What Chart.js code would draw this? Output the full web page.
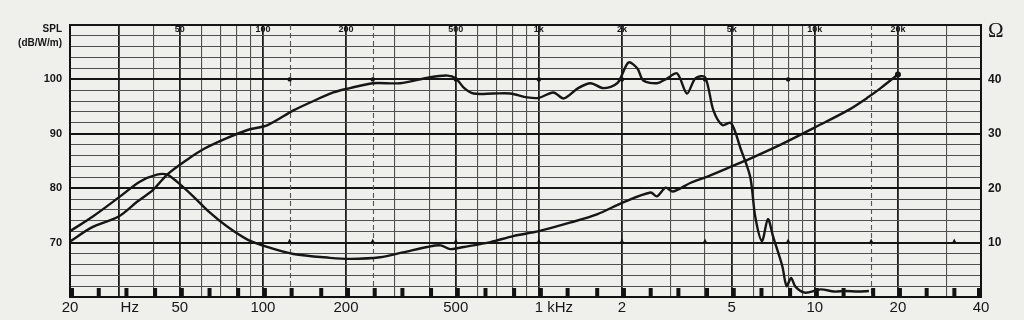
<!DOCTYPE html>
<html>
<head>
<meta charset="utf-8">
<script src="https://cdn.jsdelivr.net/npm/chart.js@4.4.1/dist/chart.umd.min.js"></script>
<style>
    html, body { margin: 0; padding: 0; background: #efefec; }
    #wrap { width: 1024px; height: 320px; }
</style>
</head>
<body>
<div id="wrap"><canvas id="graph" width="1024" height="320"></canvas></div>
<script>
// frequency response, SPL in dB/W/m (left axis)
const splFreq = [20, 24, 30, 35, 40, 45, 53, 61, 74, 88, 104, 129, 149, 180, 207, 250, 314, 404, 466, 500,
    534, 580, 684, 788, 908, 1000, 1128, 1232, 1388, 1540, 1712, 1924, 2112, 2276, 2390, 2680, 2920, 3170,
    3440, 3690, 4000, 4290, 4620, 4970, 5380, 5830, 6080, 6430, 6760, 7050, 7620, 7900, 8200, 8500, 9200,
    10500, 11750, 12800, 14400, 15700]
const splDb = [70.2, 72.8, 74.8, 77.5, 79.7, 82.5, 85.2, 87.2, 89.2, 90.7, 91.6, 94.3, 95.8, 97.6, 98.4, 99.3, 99.3, 100.4, 100.7, 100.2,
    98.5, 97.4, 97.4, 97.4, 96.7, 96.6, 97.6, 96.5, 98.4, 99.3, 98.4, 99.3, 103.1, 102.0, 99.8, 99.3, 100.2, 101.1,
    97.4, 100.2, 100.4, 94.3, 91.6, 92.0, 87.3, 82.1, 74.8, 70.3, 74.3, 71.2, 65.7, 62.0, 63.5, 61.9, 60.8,
    61.4, 61.0, 61.1, 61.0, 61.1]

// impedance in ohm (right axis)
const impFreq = [20, 24.2, 30.4, 35.8, 41.3, 45, 48.8, 55.9, 64.3, 74, 87.6, 103.6, 129, 175, 207, 266, 322, 394, 440, 478,
    534, 668, 808, 1000, 1304, 1624, 2020, 2540, 2680, 2880, 3060, 3550, 4060, 5380, 5700, 7520, 9940, 13160, 15580, 17320, 20000]
const impOhm = [12.1, 14.8, 18.5, 21.2, 22.5, 22.5, 21.2, 18.5, 15.5, 13.0, 10.6, 9.2, 7.9, 7.2, 7.0, 7.3, 8.2, 9.2, 9.5, 8.8,
    9.2, 10.1, 11.2, 12.1, 13.7, 15.2, 17.4, 19.2, 18.5, 20.1, 19.4, 21.0, 22.1, 24.7, 25.2, 28.0, 31.1, 34.3, 36.7, 38.4, 40.9]

// paper grid
const gridFreqs = [20, 30, 40, 50, 60, 70, 80, 90, 100, 200, 300, 400, 500, 600, 700, 800, 900,
    1000, 2000, 3000, 4000, 5000, 6000, 7000, 8000, 9000, 10000, 20000, 30000, 40000]
const boldFreqs = [20, 30, 50, 100, 200, 500, 1000, 2000, 5000, 10000, 20000]
const dashedFreqs = [125, 250, 16000]
const thirdOctaves = [20, 25, 31.5, 40, 50, 63, 80, 100, 125, 160, 200, 250, 315, 400, 500, 630, 800,
    1000, 1250, 1600, 2000, 2500, 3150, 4000, 5000, 6300, 8000, 10000, 12500, 16000, 20000, 25000, 31500, 40000]
const octaveMarks = [125, 250, 500, 1000, 2000, 4000, 8000, 16000, 32000]

// tick labels
const bottomTickFreqs = [20, 30, 50, 100, 200, 500, 1000, 2000, 5000, 10000, 20000, 40000]
const bottomTickText = ['20', 'Hz', '50', '100', '200', '500', '1 kHz', '2', '5', '10', '20', '40']
const topTickFreqs = [50, 100, 200, 500, 1000, 2000, 5000, 10000, 20000]
const topTickText = ['50', '100', '200', '500', '1k', '2k', '5k', '10k', '20k']
const splTicks = [70, 80, 90, 100]
const ohmTicks = [10, 20, 30, 40]

const ink = '#161616'
const sans = '"Liberation Sans", Arial, sans-serif'

let paperMarks = {
    id: 'paperMarks',
    beforeDatasetsDraw(chart) {
        let c = chart.ctx
        let a = chart.chartArea
        let x = chart.scales.x
        let y = chart.scales.y
        c.save()
        // dashed octave lines
        c.strokeStyle = '#555'
        c.lineWidth = 1.1
        c.setLineDash([5, 3])
        dashedFreqs.forEach(f => {
            let px = Math.round(x.getPixelForValue(f)) + 0.5
            c.beginPath()
            c.moveTo(px, a.top)
            c.lineTo(px, a.bottom)
            c.stroke()
        })
        c.setLineDash([])
        // 1/3 octave blocks along the bottom
        c.fillStyle = '#111'
        thirdOctaves.forEach(f => {
            let px = x.getPixelForValue(f)
            if (px > a.right - 4) px = a.right - 4
            c.fillRect(px, a.bottom - 9, 4, 9)
        })
        // octave marks on the 100 dB and 70 dB lines
        octaveMarks.forEach(f => {
            let px = x.getPixelForValue(f)
            if (f <= 8000) {
                c.beginPath()
                c.arc(px, y.getPixelForValue(100), 2.2, 0, Math.PI * 2)
                c.fill()
            }
            let py = y.getPixelForValue(70)
            c.beginPath()
            c.moveTo(px - 2.5, py + 1)
            c.lineTo(px + 2.5, py + 1)
            c.lineTo(px, py - 4)
            c.closePath()
            c.fill()
        })
        c.restore()
    },
    afterDraw(chart) {
        let c = chart.ctx
        let a = chart.chartArea
        let x = chart.scales.x
        c.save()
        c.fillStyle = ink
        c.textBaseline = 'middle'
        // bottom frequency labels
        c.font = '15px ' + sans
        bottomTickFreqs.forEach((f, i) => {
            let px = x.getPixelForValue(f)
            let t = bottomTickText[i]
            if (t === 'Hz') {
                c.textAlign = 'left'
                c.fillText(t, px + 2, 308)
            } else if (t === '1 kHz') {
                c.textAlign = 'left'
                c.fillText(t, px - c.measureText('1').width / 2, 308)
            } else {
                c.textAlign = 'center'
                c.fillText(t, px, 308)
            }
        })
        // small labels inside the top of the grid
        c.font = 'bold 9px ' + sans
        c.textAlign = 'center'
        topTickFreqs.forEach((f, i) => {
            c.fillText(topTickText[i], x.getPixelForValue(f), a.top + 5)
        })
        // axis titles
        c.font = 'bold 10px ' + sans
        c.textAlign = 'right'
        c.fillText('SPL', 62, 29)
        c.fillText('(dB/W/m)', 62, 43)
        c.font = '21px "Liberation Serif", "DejaVu Serif", serif'
        c.textAlign = 'left'
        c.textBaseline = 'alphabetic'
        c.fillText('Ω', 988, 37)
        c.restore()
    }
}

let srx = document.getElementById('graph').getContext('2d')

let graph = new Chart(srx, {
    type: 'line',
    data: {
        datasets: [
            {
                label: 'SPL',
                data: splFreq.map((f, i) => ({ x: f, y: splDb[i] })),
                yAxisID: 'y',
                borderColor: ink,
                borderWidth: 2.4,
                pointRadius: 0,
                tension: 0.3,
            },
            {
                label: 'Impedance',
                data: impFreq.map((f, i) => ({ x: f, y: impOhm[i] })),
                yAxisID: 'y1',
                borderColor: ink,
                borderWidth: 2.4,
                pointRadius: p => p.dataIndex === impFreq.length - 1 ? 3 : 0,
                pointBackgroundColor: ink,
                pointBorderWidth: 0,
                tension: 0.3,
            },
        ]
    },
    options: {
        responsive: false,
        animation: false,
        layout: { padding: { top: 25, left: 0, right: 0, bottom: 0 } },
        plugins: {
            legend: { display: false },
            tooltip: { enabled: false },
        },
        scales: {
            x: {
                type: 'logarithmic',
                min: 20,
                max: 40000,
                afterBuildTicks: s => { s.ticks = gridFreqs.map(v => ({ value: v })) },
                afterFit: s => { s.height = 23 },
                ticks: { display: false },
                grid: {
                    drawTicks: false,
                    color: g => g.tick && boldFreqs.includes(g.tick.value) ? '#1c1c1c' : '#505050',
                    lineWidth: g => g.tick && boldFreqs.includes(g.tick.value) ? 1.8 : 1.1,
                },
                border: { color: '#111', width: 2 },
            },
            y: {
                position: 'left',
                min: 60,
                max: 110,
                afterBuildTicks: s => {
                    let t = []
                    for (let v = 60; v <= 110; v += 2) t.push({ value: v })
                    s.ticks = t
                },
                afterFit: s => { s.width = 70 },
                ticks: {
                    autoSkip: false,
                    padding: 8,
                    color: ink,
                    font: { family: sans, size: 11, weight: 'bold' },
                    callback: v => splTicks.includes(v) ? String(v) : '',
                },
                grid: {
                    drawTicks: false,
                    color: g => g.tick && g.tick.value % 10 === 0 ? '#151515' : '#505050',
                    lineWidth: g => g.tick && g.tick.value % 10 === 0 ? 2 : 1.1,
                },
                border: { color: '#111', width: 2 },
            },
            y1: {
                position: 'right',
                min: 0,
                max: 50,
                afterBuildTicks: s => { s.ticks = [0, 10, 20, 30, 40, 50].map(v => ({ value: v })) },
                afterFit: s => { s.width = 43 },
                ticks: {
                    autoSkip: false,
                    padding: 7,
                    color: ink,
                    font: { family: sans, size: 12, weight: 'bold' },
                    callback: v => ohmTicks.includes(v) ? String(v) : '',
                },
                grid: { display: false, drawTicks: false },
                border: { color: '#111', width: 2 },
            },
        }
    },
    plugins: [paperMarks]
})
</script>
</body>
</html>
